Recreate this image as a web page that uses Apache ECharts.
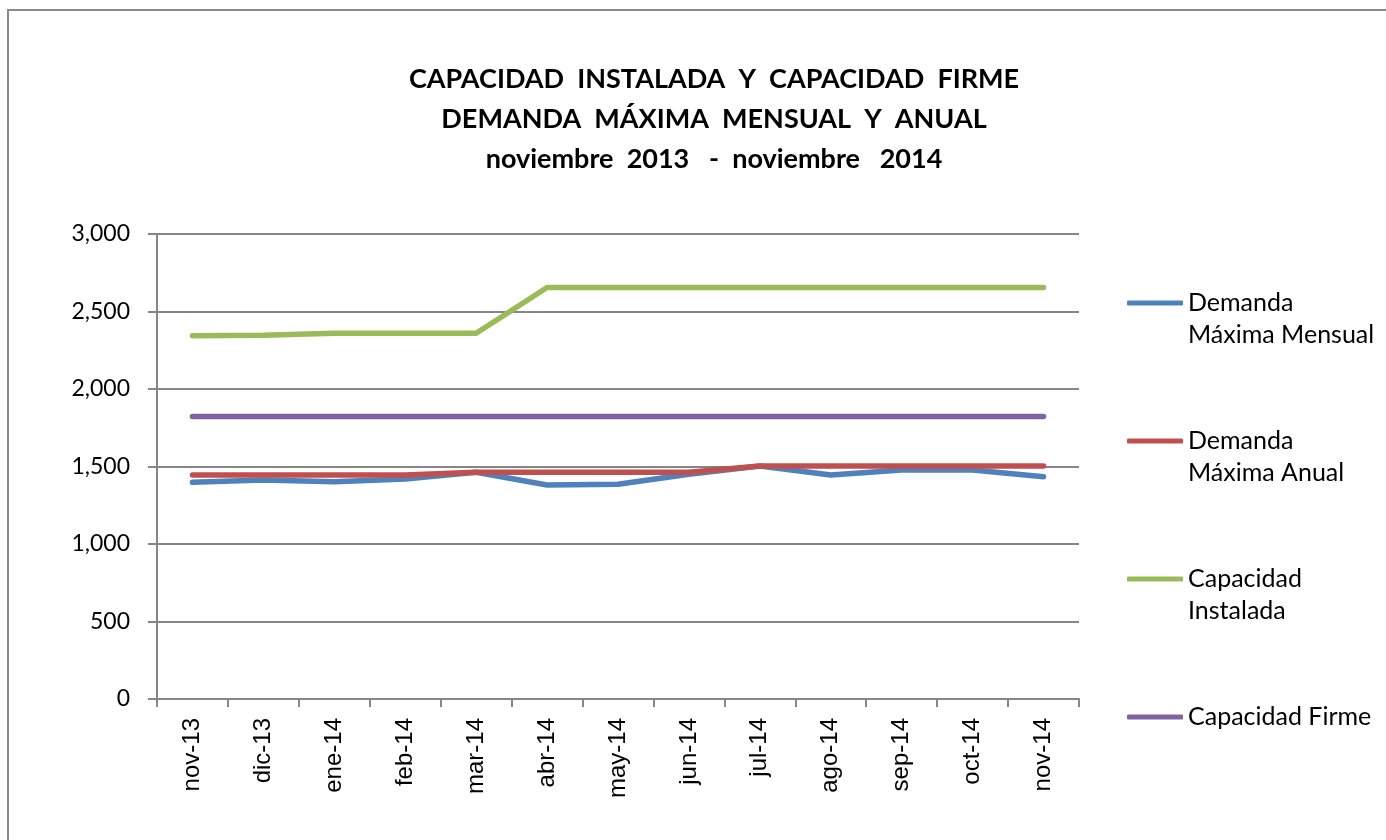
<!DOCTYPE html>
<html>
<head>
<meta charset="utf-8">
<title>Capacidad instalada y firme</title>
<script src="https://cdn.jsdelivr.net/npm/echarts@6/dist/echarts.min.js"></script>
<style>
  html, body { margin: 0; padding: 0; background: #fff; }
  #main { width: 1386px; height: 840px; }
</style>
</head>
<body>
<div id="main"></div>
<script type="text/javascript">
// meses
var meses = ['nov-13', 'dic-13', 'ene-14', 'feb-14', 'mar-14', 'abr-14', 'may-14',
             'jun-14', 'jul-14', 'ago-14', 'sep-14', 'oct-14', 'nov-14'];

// valores (MW)
var demandaMensual = [1398, 1413, 1402, 1419, 1463, 1381, 1385, 1450, 1503, 1445, 1477, 1477, 1434];
var demandaAnual   = [1445, 1445, 1445, 1445, 1463, 1463, 1463, 1463, 1503, 1503, 1503, 1503, 1503];
var capInstalada   = [2344, 2346, 2360, 2360, 2360, 2655, 2655, 2655, 2655, 2655, 2655, 2655, 2655];
var capFirme       = [1822, 1822, 1822, 1822, 1822, 1822, 1822, 1822, 1822, 1822, 1822, 1822, 1822];

var nombres = ['Demanda Máxima Mensual', 'Demanda Máxima Anual', 'Capacidad Instalada', 'Capacidad Firme'];
// la primera linea del texto queda a la altura del icono (linea vacia arriba)
var etiquetas = {
    'Demanda Máxima Mensual': '\u00a0\nDemanda\nMáxima Mensual',
    'Demanda Máxima Anual': '\u00a0\nDemanda\nMáxima Anual',
    'Capacidad Instalada': '\u00a0\nCapacidad\nInstalada',
    'Capacidad Firme': '\u00a0\nCapacidad Firme\n\u00a0'
};
var colores = ['#4F81BD', '#C0504D', '#9BBB59', '#8064A2'];

var myChart = echarts.init(document.getElementById('main'));

function linea(nombre, datos, color) {
    return {
        name: nombre,
        type: 'line',
        data: datos,
        symbol: 'none',
        lineStyle: { color: color, width: 5.5, cap: 'round', join: 'round' },
        itemStyle: { color: color },
        animation: false
    };
}

myChart.setOption({
    backgroundColor: '#FFFFFF',
    title: {
        text: 'CAPACIDAD  INSTALADA  Y  CAPACIDAD  FIRME\nDEMANDA  MÁXIMA  MENSUAL  Y  ANUAL\nnoviembre  2013   -  noviembre   2014',
        left: 709,
        top: 54,
        textAlign: 'center',
        textStyle: {
            fontFamily: 'Lato',
            fontWeight: 'bold',
            fontSize: 27,
            lineHeight: 40,
            color: '#000'
        }
    },
    graphic: [{
        // marco del grafico
        type: 'rect',
        shape: { x: 8, y: 10, width: 1500, height: 1000 },
        style: { fill: 'none', stroke: '#8a8a8a', lineWidth: 2 },
        silent: true
    }],
    legend: {
        orient: 'vertical',
        left: 1122,
        top: 250,
        itemWidth: 56,
        itemHeight: 5,
        itemGap: 42,
        icon: 'roundRect',
        textStyle: { fontFamily: 'Lato', fontSize: 25, lineHeight: 32, color: '#000' },
        formatter: function (n) { return etiquetas[n]; },
        data: nombres
    },
    grid: {
        left: 157,
        right: 307,
        top: 234,
        bottom: 141,
        containLabel: false
    },
    xAxis: {
        type: 'category',
        data: meses,
        boundaryGap: true,
        axisLine: { lineStyle: { color: '#868686', width: 2 } },
        axisTick: { show: true, inside: false, length: 8, lineStyle: { color: '#868686', width: 2 } },
        axisLabel: {
            rotate: 90,
            margin: 19,
            interval: 0,
            color: '#000',
            fontFamily: 'Liberation Sans',
            fontSize: 24
        },
        splitLine: { show: false }
    },
    yAxis: {
        type: 'value',
        min: 0,
        max: 3000,
        interval: 500,
        axisLine: { show: true, lineStyle: { color: '#868686', width: 2 } },
        axisTick: { show: true, inside: false, length: 9, lineStyle: { color: '#868686', width: 2 } },
        axisLabel: {
            margin: 27,
            color: '#000',
            fontFamily: 'Lato',
            fontSize: 23,
            formatter: function (v) { return v.toLocaleString('en-US'); }
        },
        splitLine: { show: true, lineStyle: { color: '#868686', width: 2 } }
    },
    series: [
        linea(nombres[0], demandaMensual, colores[0]),
        linea(nombres[1], demandaAnual, colores[1]),
        linea(nombres[2], capInstalada, colores[2]),
        linea(nombres[3], capFirme, colores[3])
    ]
});
</script>
</body>
</html>
